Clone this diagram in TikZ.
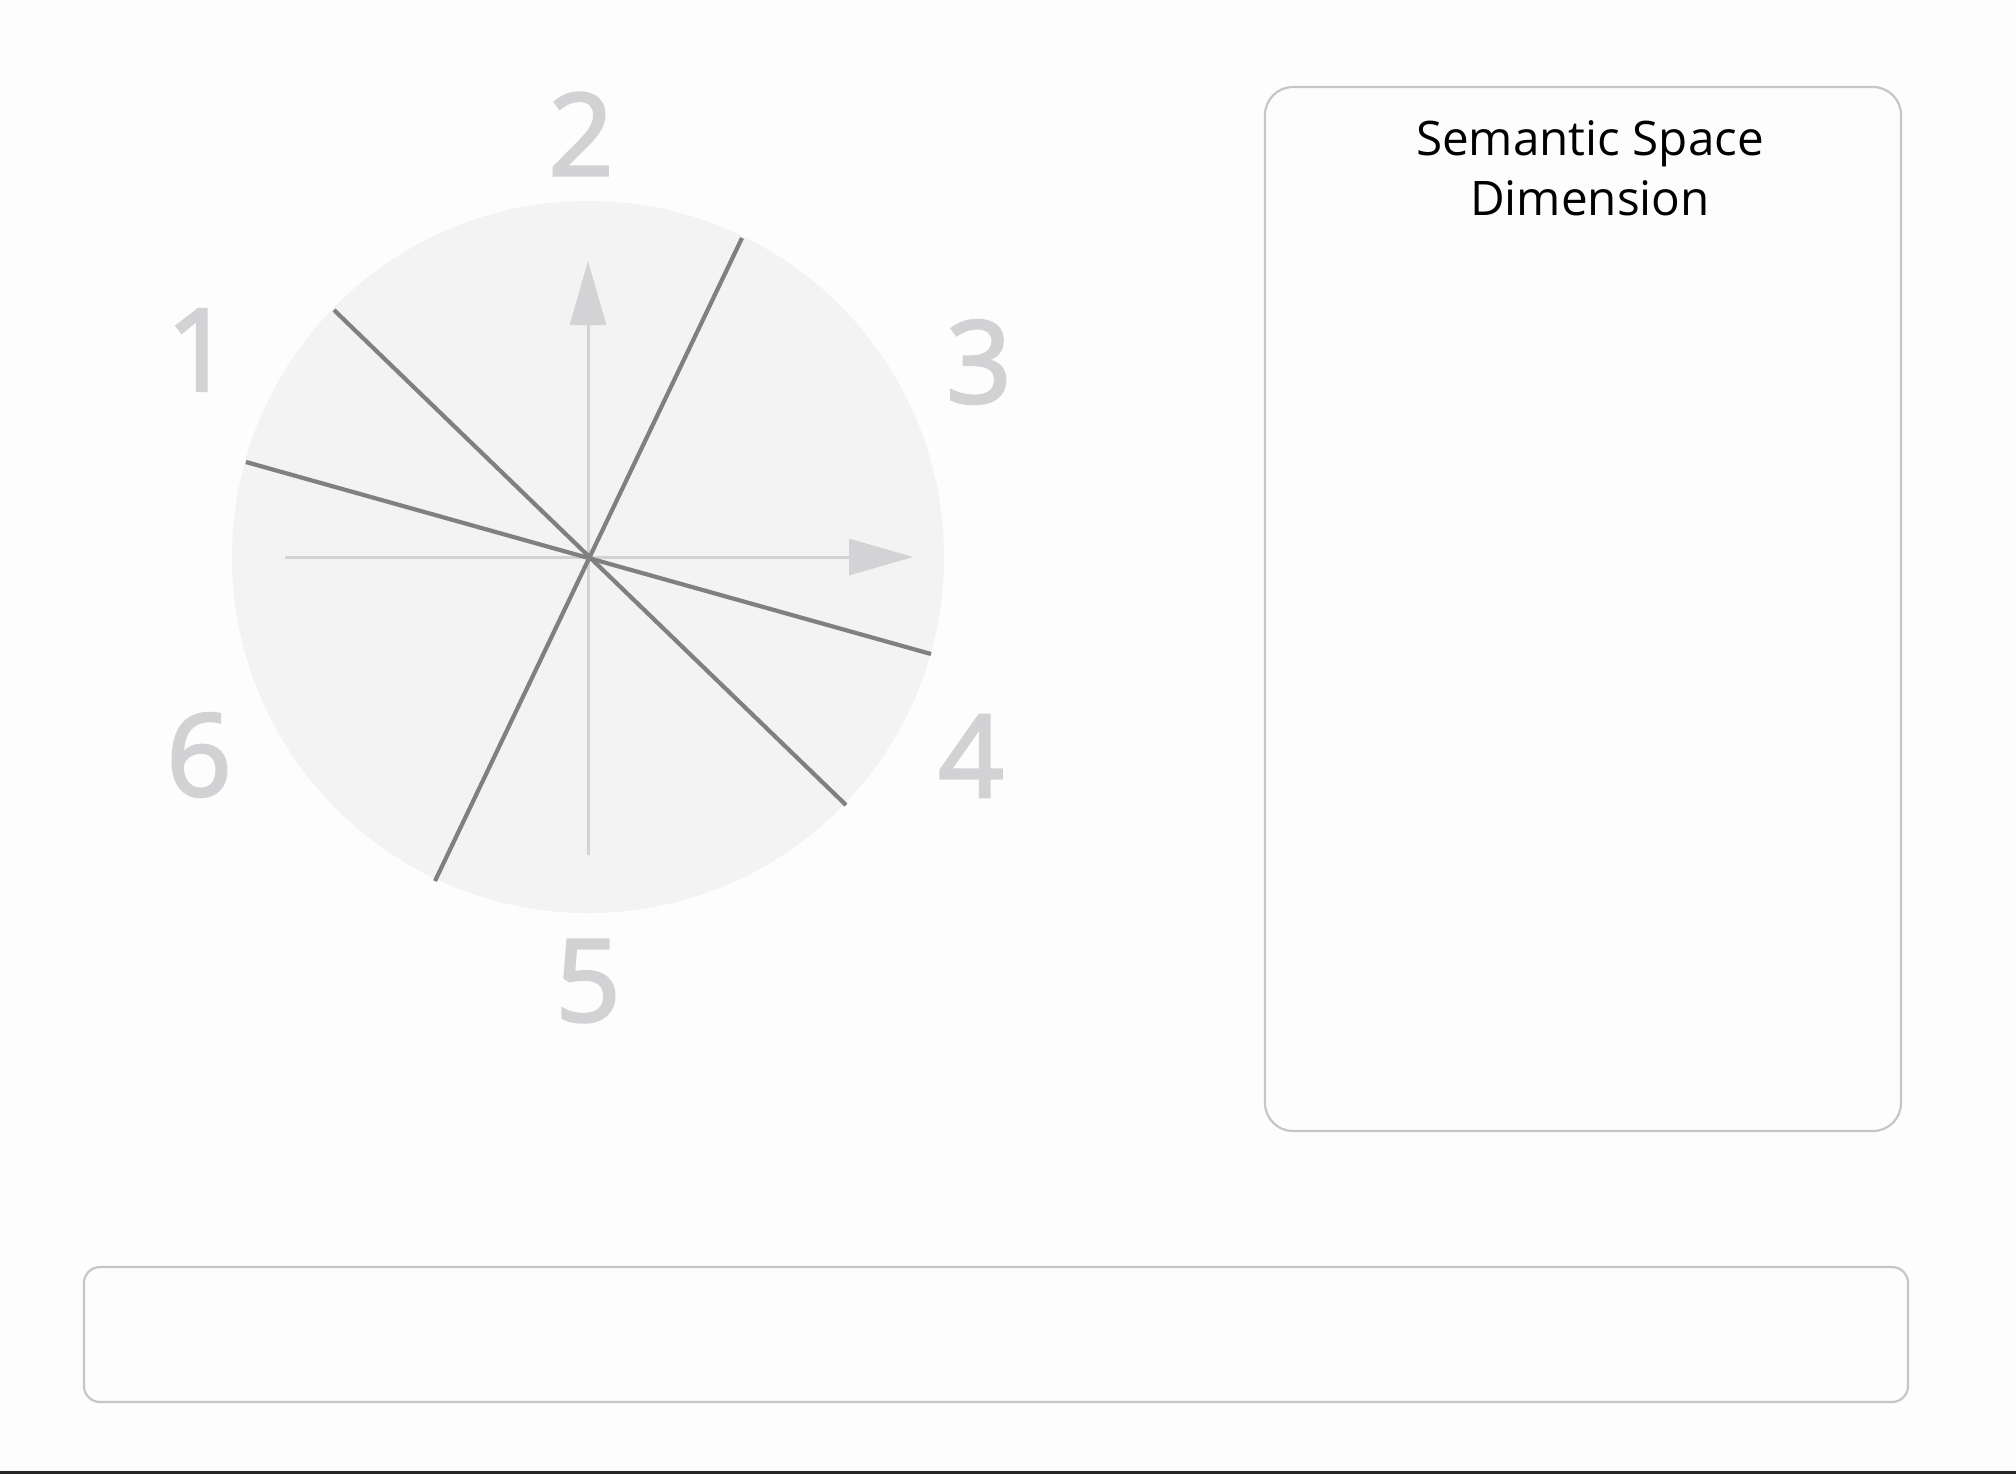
\documentclass[tikz,border=0pt]{standalone}
\usepackage{fontspec}
\setmainfont{Open Sans}
\newfontfamily\numfont{Open Sans}[FakeBold=2.5]
\usetikzlibrary{arrows.meta}
\definecolor{bgc}{HTML}{FDFDFD}
\definecolor{discc}{HTML}{F3F3F3}
\definecolor{numc}{HTML}{D2D2D5}
\definecolor{axisc}{HTML}{D3D3D6}
\definecolor{rayc}{HTML}{808080}
\definecolor{boxc}{HTML}{C6C6C6}
\tikzset{
  numlabel/.style={text=numc, font=\numfont\fontsize{57}{60}\selectfont, inner sep=0pt, anchor=center},
  ray/.style={draw=rayc, line width=2.1pt},
  axisline/.style={draw=axisc, line width=1.5pt, -{Triangle[length=32pt,width=18pt]}},
  panel/.style={draw=boxc, line width=1.1pt}
}
\begin{document}
\begin{tikzpicture}[x=0.5pt,y=-0.5pt]
\fill[bgc] (0,0) rectangle (2016,1474);
\useasboundingbox (0,0) rectangle (2016,1474);
\fill[black!85] (0,1471) rectangle (2016,1474);
% disc
\coordinate (c) at (588,557);
\fill[discc] (c) circle[radius=356];
% axes
\coordinate (hx0) at (285,557);
\coordinate (hx1) at (913,557);
\coordinate (vy0) at (588,855);
\coordinate (vy1) at (588,261);
\draw[axisline] (hx0) -- (hx1);
\draw[axisline] (vy0) -- (vy1);
% rays
\coordinate (a1) at (334,310);
\coordinate (a2) at (846,805);
\coordinate (b1) at (246,462);
\coordinate (b2) at (931,654);
\coordinate (e1) at (742,238);
\coordinate (e2) at (435,881);
\draw[ray] (a1) -- (a2);
\draw[ray] (b1) -- (b2);
\draw[ray] (e1) -- (e2);
% numbers
\node[numlabel] (n1) at (199,350) {1};
\node[numlabel] (n2) at (581,134) {2};
\node[numlabel] (n3) at (979,362) {3};
\node[numlabel] (n4) at (971,756) {4};
\node[numlabel] (n5) at (588,981) {5};
\node[numlabel] (n6) at (199,755) {6};
% panels
\draw[panel, rounded corners=14pt] (1265,87) rectangle (1901,1131);
\node[inner sep=0pt, anchor=north, align=center, font=\fontsize{23.8}{30}\selectfont] (title) at (1590,120) {Semantic Space\\Dimension};
\draw[panel, rounded corners=8pt] (84,1267) rectangle (1908,1402);
\end{tikzpicture}
\end{document}
